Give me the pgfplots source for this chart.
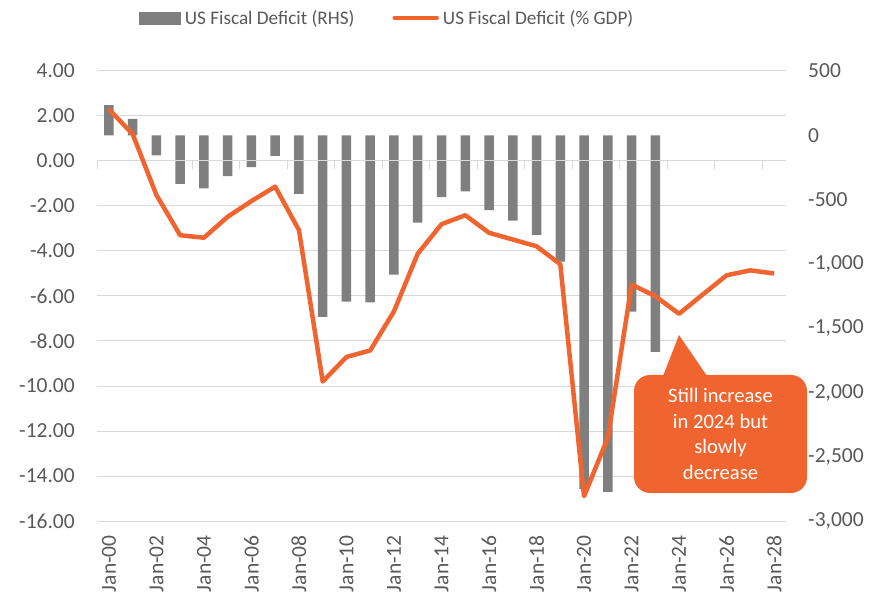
\documentclass[border=0pt]{standalone}
\usepackage{pgfplots}
\pgfplotsset{compat=1.18}
\usepackage{fontspec}
\setmainfont{Carlito}
\definecolor{barGray}{HTML}{7F7F7F}
\definecolor{lineOrange}{HTML}{F0652F}
\definecolor{gridGray}{HTML}{D9D9D9}
\definecolor{txtGray}{HTML}{595959}
\newcommand{\tickfont}{\fontsize{21.5bp}{25bp}\selectfont}
\newcommand{\legfont}{\fontsize{19.2bp}{23bp}\selectfont}
\newcommand{\callfont}{\fontsize{20.6bp}{25.6bp}\selectfont}
\begin{document}
\begin{tikzpicture}
\pgfplotsset{
  base/.style={width=689bp, height=450bp, scale only axis, at={(0,0)}, anchor=south west,
    xmin=1999.5, xmax=2028.5, /pgf/number format/assume math mode=true},
}
% Axis 1: grid, left labels, x labels
\begin{axis}[base, ymin=-16, ymax=4, ytick={-16,-14,...,4},
  ymajorgrids, grid style={gridGray, line width=1bp},
  axis line style={draw=none}, major tick style={draw=none},
  xtick={2000,2002,...,2028},
  xticklabels={Jan-00,Jan-02,Jan-04,Jan-06,Jan-08,Jan-10,Jan-12,Jan-14,Jan-16,Jan-18,Jan-20,Jan-22,Jan-24,Jan-26,Jan-28},
  xticklabel style={rotate=90, anchor=east, inner sep=0pt, font=\tickfont, text=txtGray},
  xticklabel shift=14bp,
  yticklabel style={anchor=east, inner sep=0pt, font=\tickfont, text=txtGray,
    /pgf/number format/fixed, /pgf/number format/fixed zerofill, /pgf/number format/precision=2},
  yticklabel shift=22bp]
\end{axis}
% Axis 2: bars on right axis
\begin{axis}[base, ymin=-3000, ymax=500, ytick={-3000,-2500,...,500},
  axis y line*=right, axis x line=none, scaled y ticks=false,
  axis line style={draw=none}, major tick style={draw=none},
  yticklabel style={anchor=west, inner sep=0pt, font=\tickfont, text=txtGray,
    /pgf/number format/1000 sep={,}},
  yticklabel shift=22bp,
  ybar, bar width=9.5bp]
\addplot[fill=barGray, draw=none] coordinates {
(2000,234) (2001,128) (2002,-156) (2003,-377) (2004,-413) (2005,-318)
(2006,-248) (2007,-161) (2008,-455) (2009,-1413) (2010,-1293) (2011,-1300)
(2012,-1084) (2013,-679) (2014,-481) (2015,-437) (2016,-583) (2017,-663)
(2018,-775) (2019,-983) (2020,-2753) (2021,-2774) (2022,-1372) (2023,-1685)};
\end{axis}
% Axis 3: zero line, orange line, legend
\begin{axis}[base, ymin=-16, ymax=4,
  axis y line=none, axis x line=middle,
  axis line style={gridGray, line width=1bp, -},
  xtick={1999.5,2001.5,2003.5,2005.5,2007.5,2009.5,2011.5,2013.5,2015.5,2017.5,2019.5,2021.5,2023.5,2025.5,2027.5},
  xticklabels={}, tick align=outside, major tick length=8bp,
  major tick style={gridGray, line width=1bp},
  legend columns=2,
  legend style={at={(0.42,1.118)}, anchor=center, draw=none, fill=none,
    font=\legfont, text=txtGray, nodes={inner sep=0pt},
    /tikz/every odd column/.append style={column sep=4bp},
    /tikz/every even column/.append style={column sep=38bp}}]
\addlegendimage{legend image code/.code={\fill[barGray] (0bp,-6bp) rectangle (41bp,6bp);}}
\addlegendentry{US Fiscal Deficit (RHS)}
\addplot[lineOrange, line width=4.5bp, line join=round, mark=none,
  legend image code/.code={\draw[lineOrange, line width=4.5bp, line cap=round] (2bp,0bp) -- (44bp,0bp);}]
  coordinates {
(2000,2.30) (2001,1.20) (2002,-1.51) (2003,-3.30) (2004,-3.41) (2005,-2.48)
(2006,-1.78) (2007,-1.14) (2008,-3.07) (2009,-9.80) (2010,-8.71) (2011,-8.42)
(2012,-6.68) (2013,-4.12) (2014,-2.81) (2015,-2.41) (2016,-3.19) (2017,-3.49)
(2018,-3.79) (2019,-4.59) (2020,-14.90) (2021,-12.30) (2022,-5.49) (2023,-6.01)
(2024,-6.79) (2025,-5.93) (2026,-5.08) (2027,-4.86) (2028,-5.00)};
\addlegendentry{US Fiscal Deficit (\% GDP)}
\end{axis}
% Callout
\fill[lineOrange, rounded corners=16bp] (537bp,28bp) rectangle (710bp,146bp);
\fill[lineOrange] (566bp,145bp) -- (582bp,186bp) -- (610bp,145bp) -- cycle;
\node[text=white, align=center, font=\callfont, inner sep=0pt] at (623.5bp,87bp)
  {Still increase\\in 2024 but\\slowly\\decrease};
\pgfresetboundingbox
\path[use as bounding box] (-97bp,-81bp) rectangle (775bp,521bp);
\end{tikzpicture}
\end{document}
